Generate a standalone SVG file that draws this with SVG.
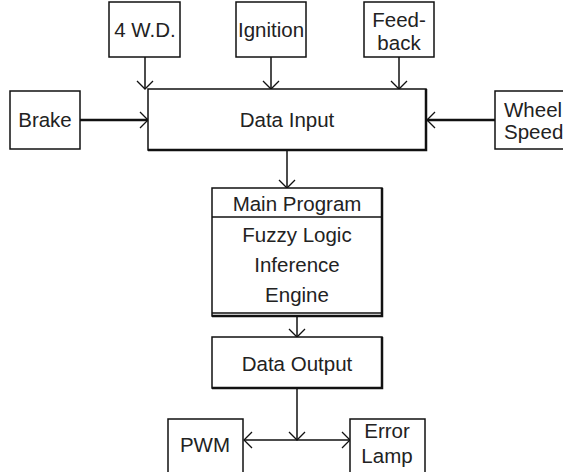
<svg xmlns="http://www.w3.org/2000/svg" width="563" height="472" viewBox="0 0 563 472">
<style>
.box{fill:#fff;stroke:#111;stroke-width:1.5}
.sh{fill:none;stroke:#111;stroke-width:2.5}
text{font-family:"Liberation Sans",Arial,sans-serif;font-size:20.5px;fill:#222;text-anchor:middle}
.c{fill:none;stroke:#111;stroke-width:1.5}
.ct{fill:none;stroke:#111;stroke-width:2.5}
</style>
<defs>
<marker id="ah" viewBox="-10 -10 12 20" refX="0" refY="0" markerWidth="12" markerHeight="20" markerUnits="userSpaceOnUse" orient="auto">
<path d="M-8,-8 L0,0 L-8,8" fill="none" stroke="#111" stroke-width="1.3"/>
</marker>
</defs>
<g id="connectors">
<line class="c" x1="145" y1="57" x2="145" y2="89" marker-end="url(#ah)"/>
<line class="c" x1="271" y1="57" x2="271" y2="89" marker-end="url(#ah)"/>
<line class="c" x1="399" y1="57" x2="399" y2="89" marker-end="url(#ah)"/>
<line class="ct" x1="80" y1="120" x2="148" y2="120" marker-end="url(#ah)"/>
<line class="ct" x1="495" y1="120" x2="427" y2="120" marker-end="url(#ah)"/>
<line class="c" x1="287" y1="150" x2="287" y2="188" marker-end="url(#ah)"/>
<line class="c" x1="297" y1="317" x2="297" y2="337" marker-end="url(#ah)"/>
<line class="c" x1="297" y1="388" x2="297" y2="440" marker-end="url(#ah)"/>
<line class="c" x1="297" y1="440" x2="244" y2="440" marker-end="url(#ah)"/>
<line class="c" x1="297" y1="440" x2="350" y2="440" marker-end="url(#ah)"/>
</g>
<g id="n4wd">
<rect class="box" x="109" y="2" width="71" height="55"/>
<text x="145" y="37">4 W.D.</text>
</g>
<g id="ignition">
<rect class="box" x="236" y="2" width="70" height="55"/>
<text x="271" y="37">Ignition</text>
</g>
<g id="feedback">
<rect class="box" x="364" y="2" width="70" height="55"/>
<text x="399" y="27">Feed-</text>
<text x="399" y="50">back</text>
</g>
<g id="brake">
<rect class="box" x="10" y="91" width="70" height="58"/>
<text x="45" y="127">Brake</text>
</g>
<g id="datainput">
<rect class="box" x="148" y="89" width="278" height="61"/>
<polyline class="sh" points="426,89 426,150 148,150"/>
<text x="287" y="127">Data Input</text>
</g>
<g id="wheelspeed">
<rect class="box" x="495" y="91" width="80" height="58"/>
<text x="504" y="117" style="text-anchor:start">Wheel</text>
<text x="504" y="139" style="text-anchor:start">Speed</text>
</g>
<g id="mainprogram">
<rect class="box" x="212" y="188" width="170" height="128"/>
<polyline class="sh" points="382,188 382,316 212,316"/>
<line class="c" x1="212" y1="217" x2="382" y2="217"/>
<line class="c" x1="212" y1="313" x2="382" y2="313"/>
<text x="297" y="211">Main Program</text>
<text x="297" y="242">Fuzzy Logic</text>
<text x="297" y="272">Inference</text>
<text x="297" y="302">Engine</text>
</g>
<g id="dataoutput">
<rect class="box" x="212" y="337" width="170" height="51"/>
<polyline class="sh" points="382,337 382,388 212,388"/>
<text x="297" y="371">Data Output</text>
</g>
<g id="pwm">
<rect class="box" x="168" y="419" width="75" height="60"/>
<text x="205" y="452">PWM</text>
</g>
<g id="errorlamp">
<rect class="box" x="350" y="419" width="75" height="60"/>
<text x="387" y="438">Error</text>
<text x="387" y="463">Lamp</text>
</g>
</svg>
